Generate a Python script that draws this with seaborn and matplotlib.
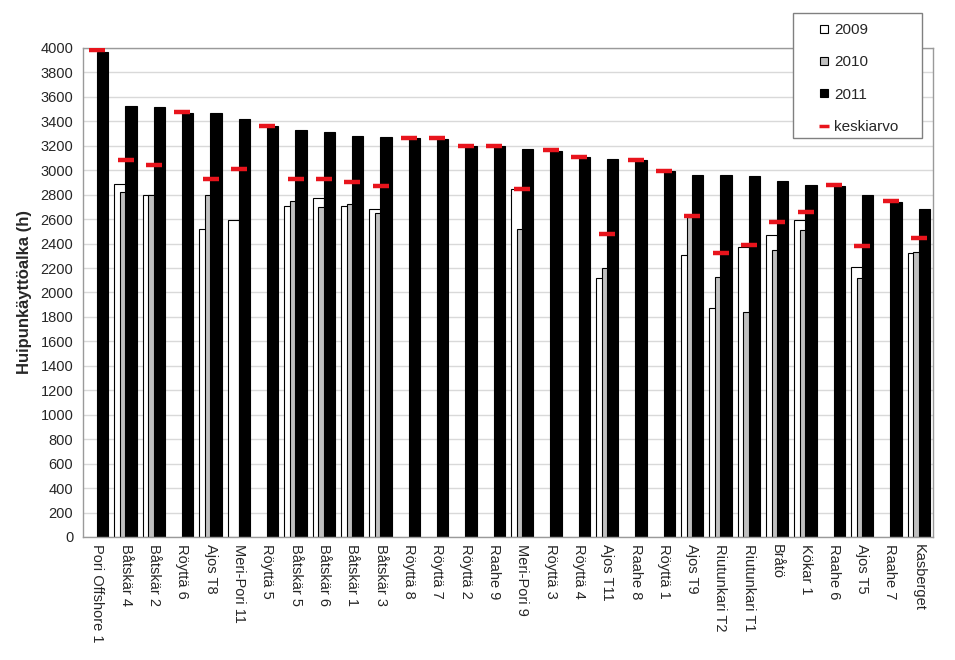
import numpy as np
import matplotlib
matplotlib.use("Agg")
import matplotlib.pyplot as plt
from matplotlib.lines import Line2D
from matplotlib.patches import Rectangle
import seaborn as sns

# data
sites = ["Pori Offshore 1", "Båtskär 4", "Båtskär 2", "Röyttä 6", "Ajos T8",
         "Meri-Pori 11", "Röyttä 5", "Båtskär 5", "Båtskär 6", "Båtskär 1",
         "Båtskär 3", "Röyttä 8", "Röyttä 7", "Röyttä 2", "Raahe 9",
         "Meri-Pori 9", "Röyttä 3", "Röyttä 4", "Ajos T11", "Raahe 8",
         "Röyttä 1", "Ajos T9", "Riutunkari T2", "Riutunkari T1", "Bråtö",
         "Kökar 1", "Raahe 6", "Ajos T5", "Raahe 7", "Kasberget"]
nan = np.nan
h2009 = [nan, 2885, 2800, nan, 2520, 2590, nan, 2710, 2770, 2710,
         2680, nan, nan, nan, nan, 2850, nan, nan, 2120, nan,
         nan, 2305, 1870, 2370, 2470, 2590, nan, 2210, nan, 2320]
h2010 = [nan, 2820, 2800, nan, 2800, nan, nan, 2750, 2700, 2720,
         2650, nan, nan, nan, nan, 2520, nan, nan, 2200, nan,
         nan, 2620, 2130, 1840, 2350, 2510, nan, 2120, nan, 2330]
h2011 = [3970, 3525, 3515, 3470, 3470, 3420, 3360, 3330, 3315, 3280,
         3275, 3260, 3255, 3195, 3195, 3170, 3160, 3110, 3095, 3080,
         2990, 2965, 2960, 2950, 2910, 2880, 2870, 2800, 2740, 2680]
mean = [3980, 3085, 3040, 3480, 2930, 3010, 3365, 2930, 2930, 2905,
        2870, 3265, 3260, 3200, 3195, 2850, 3165, 3110, 2480, 3085,
        2995, 2625, 2320, 2385, 2580, 2660, 2880, 2380, 2745, 2445]

sns.set_style("white")
plt.rcParams["font.family"] = ["Liberation Sans", "DejaVu Sans"]

W, H = 955, 660
fig = plt.figure(figsize=(W / 100, H / 100), dpi=100)
ax = fig.add_axes([83 / W, 1 - 537 / H, 850 / W, 489 / H])

# 2009, 2010, 2011 bars overlap like in the excel original
series = [(h2009, "white", -0.19), (h2010, "#c0c0c0", 0.0), (h2011, "black", 0.19)]
for vals, col, shift in series:
    sns.barplot(x=sites, y=vals, order=sites, color=col, saturation=1,
                width=0.4, errorbar=None, edgecolor="black", linewidth=0.8,
                ax=ax, zorder=2)
    for p in ax.containers[-1]:
        p.set_x(p.get_x() + shift)

sns.scatterplot(x=sites, y=mean, marker="_", s=120, linewidth=3.2,
                color="#e8141c", ax=ax, zorder=5)

ax.set_xlim(-0.5, len(sites) - 0.5)
ax.set_ylim(0, 4000)
ax.set_yticks(np.arange(0, 4001, 200))
ax.yaxis.grid(True, color="#d9d9d9", linewidth=1)
ax.set_axisbelow(True)

ax.set_xticks(np.arange(len(sites)))
ax.set_xticklabels(sites, rotation=270, ha="center", va="top", fontsize=10.5)
ax.set_xticks(np.arange(len(sites) + 1) - 0.5, minor=True)
ax.tick_params(axis="x", which="major", length=0, pad=5)
ax.tick_params(axis="x", which="minor", length=4, color="#868686", direction="out")
ax.tick_params(axis="y", length=4, color="#868686", direction="out", labelsize=10.5, pad=3)
ax.set_xlabel("")
ax.set_ylabel("Huipunkäyttöalka (h)", fontsize=12, fontweight="bold", labelpad=6)

for s in ax.spines.values():
    s.set_color("#9a9a9a")
    s.set_linewidth(1)

# legend box drawn separately so the entries can sit like in the original
fig.patches.append(Rectangle((793 / W, 1 - 138 / H), 129 / W, 125 / H,
                             transform=fig.transFigure, facecolor="white",
                             edgecolor="#808080", linewidth=1, zorder=1))
handles = [Line2D([], [], ls="none", marker="s", ms=6, mfc="white", mec="black", mew=0.8),
           Line2D([], [], ls="none", marker="s", ms=6, mfc="#c0c0c0", mec="black", mew=0.8),
           Line2D([], [], ls="none", marker="s", ms=6, mfc="black", mec="black", mew=0.8),
           Line2D([], [], ls="none", marker="_", ms=7, mec="#e8141c", mew=2.5)]
leg = fig.legend(handles, ["2009", "2010", "2011", "keskiarvo"],
                 loc="upper left", bbox_to_anchor=(816 / W, 1 - 23 / H),
                 fontsize=11, frameon=False, handlelength=1.05,
                 handletextpad=0.15, labelspacing=1.2, numpoints=1,
                 borderpad=0, borderaxespad=0)

fig.savefig("out.png", dpi=100)
